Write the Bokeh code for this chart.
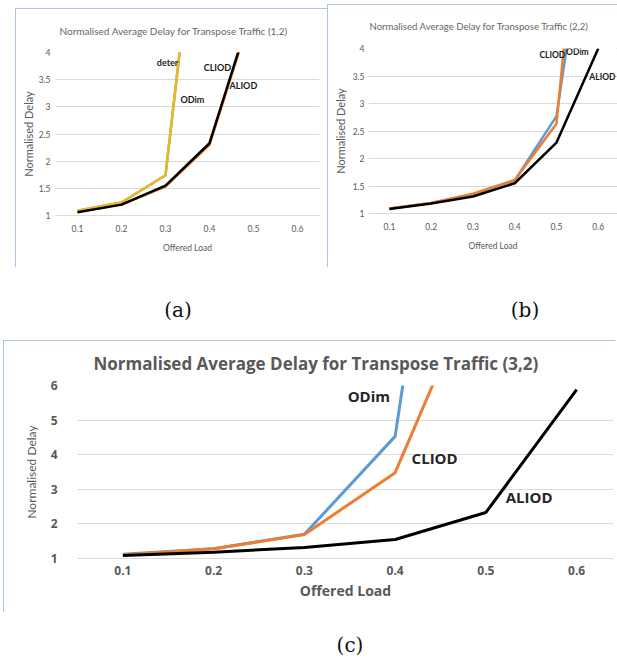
from bokeh.plotting import figure
from bokeh.models import Range1d, FixedTicker, NumeralTickFormatter, Label, Div, Spacer
from bokeh.layouts import row, column
from bokeh.embed import file_html
from bokeh.resources import INLINE

# ---------------- data ----------------
offered_load = [0.1, 0.2, 0.3, 0.4, 0.5, 0.6]

# (a) Transpose Traffic (1,2)
a_odim = [1.09, 1.24, 1.74, 8.8]
a_cliod = [1.07, 1.20, 1.53, 2.30, 4.85]
a_deter = [1.09, 1.24, 1.74, 8.8]
a_aliod = [1.06, 1.20, 1.55, 2.33, 4.9]
a_yticks = [1, 1.5, 2, 2.5, 3, 3.5, 4]

# (b) Transpose Traffic (2,2)
b_odim = [1.09, 1.19, 1.35, 1.60, 2.77, 7.9]
b_cliod = [1.09, 1.19, 1.36, 1.61, 2.63, 10.5]
b_aliod = [1.08, 1.18, 1.31, 1.55, 2.29, 4.0]
b_yticks = [1, 1.5, 2, 2.5, 3, 3.5, 4]

# (c) Transpose Traffic (3,2)
c_odim = [1.12, 1.28, 1.70, 4.53, 22.0]
c_cliod = [1.10, 1.28, 1.69, 3.48, 9.6]
c_aliod = [1.09, 1.18, 1.32, 1.55, 2.33, 5.88]
c_yticks = [1, 2, 3, 4, 5, 6]

titles = ["Normalised Average Delay for Transpose Traffic (1,2)",
          "Normalised Average Delay for Transpose Traffic (2,2)",
          "Normalised Average Delay for Transpose Traffic (3,2)"]
captions = ["(a)", "(b)", "(c)"]

BLUE, ORANGE, YELLOW, BLACK = "#5B9BD5", "#ED7D31", "#EDB81C", "#000000"
GRAY_TXT, GRID = "#595959", "#D9D9D9"
BOX = "#8DB3E2"


def chart(width, height, bl, br, bt, bb, x_end, y_end, yticks,
          tick_font, tick_size, tick_style, ylab_font, ylab_size, ylab_style,
          xlab_font, xlab_size, xlab_style, y_std, y_lab_std, x_std, x_lab_std,
          title, title_font, title_size, title_style, title_offset, title_standoff,
          title_color):
    p = figure(width=width, height=height,
               x_range=Range1d(0.05, x_end), y_range=Range1d(1, y_end),
               output_backend="svg", toolbar_location=None,
               min_border_left=bl, min_border_right=br,
               min_border_top=bt, min_border_bottom=bb)
    p.title.text = title
    p.title.align = "left"
    p.title.offset = title_offset
    p.title.vertical_align = "middle"
    p.title.standoff = title_standoff
    p.title.text_font = title_font
    p.title.text_font_size = f"{title_size}px"
    p.title.text_font_style = title_style
    p.title.text_color = title_color
    p.outline_line_color = None
    p.border_fill_color = "white"
    p.background_fill_color = "white"
    p.xgrid.grid_line_color = None
    p.ygrid.grid_line_color = GRID
    p.ygrid.grid_line_width = 1
    p.xaxis.ticker = FixedTicker(ticks=offered_load)
    p.xaxis.formatter = NumeralTickFormatter(format="0.0")
    p.yaxis.ticker = FixedTicker(ticks=yticks)
    p.yaxis.formatter = NumeralTickFormatter(format="0.[0]")
    for ax in (p.xaxis[0], p.yaxis[0]):
        ax.major_tick_line_color = None
        ax.minor_tick_line_color = None
        ax.major_tick_in = 0
        ax.major_tick_out = 0
        ax.major_label_text_font = tick_font
        ax.major_label_text_font_size = f"{tick_size}px"
        ax.major_label_text_font_style = tick_style
        ax.major_label_text_color = GRAY_TXT
        ax.axis_label_text_color = GRAY_TXT
    p.xaxis.axis_line_color = GRID
    p.yaxis.axis_line_color = None
    p.yaxis.axis_label = "Normalised Delay"
    p.xaxis.axis_label = "Offered Load"
    p.yaxis.axis_label_text_font = ylab_font
    p.yaxis.axis_label_text_font_size = f"{ylab_size}px"
    p.yaxis.axis_label_text_font_style = ylab_style
    p.xaxis.axis_label_text_font = xlab_font
    p.xaxis.axis_label_text_font_size = f"{xlab_size}px"
    p.xaxis.axis_label_text_font_style = xlab_style
    p.yaxis.major_label_standoff = y_std
    p.yaxis.axis_label_standoff = y_lab_std
    p.xaxis.major_label_standoff = x_std
    p.xaxis.axis_label_standoff = x_lab_std
    p.styles = {"outline": f"1px solid {BOX}", "outline-offset": "-1px"}
    return p


def add_text(p, x, y, text, font, size, style, color):
    p.add_layout(Label(x=x, y=y, text=text, text_font=font, text_font_size=f"{size}px",
                       text_font_style=style, text_color=color,
                       text_align="center", text_baseline="middle"))


# ---------- (a) ----------
pa = chart(312, 259, 40, 8, 42, 52, 0.65, 4, a_yticks,
           "Lato", 8.5, "normal", "Lato", 11, "normal", "Lato", 8.5, "normal",
           5, 1, 9, 8, titles[0], "Lato", 10, "normal", 4, 30, "#666666")
pa.line(offered_load[:len(a_odim)], a_odim, color=BLUE, line_width=2.5)
pa.line(offered_load[:len(a_cliod)], a_cliod, color=ORANGE, line_width=2.5)
pa.line(offered_load[:len(a_deter)], a_deter, color=YELLOW, line_width=2.5)
pa.line(offered_load[:len(a_aliod)], a_aliod, color=BLACK, line_width=2.5)
add_text(pa, 0.3045, 3.82, "deter", "Lato", 9, "bold", "#1a1a1a")
add_text(pa, 0.418, 3.73, "CLIOD", "Lato", 9, "bold", "#1a1a1a")
add_text(pa, 0.477, 3.40, "ALIOD", "Lato", 9, "bold", "#1a1a1a")
add_text(pa, 0.361, 3.13, "ODim", "Lato", 9, "bold", "#1a1a1a")

# ---------- (b) ----------
pb = chart(290, 263, 41, 0, 43, 54, 0.646, 4, b_yticks,
           "Lato", 8.5, "normal", "Lato", 11, "normal", "Lato", 8.5, "normal",
           4, 3, 9, 8, titles[1], "Lato", 9.6, "normal", 1, 31, "#666666")
pb.line(offered_load[:len(b_odim)], b_odim, color=BLUE, line_width=2.5)
pb.line(offered_load[:len(b_cliod)], b_cliod, color=ORANGE, line_width=2.5)
pb.line(offered_load[:len(b_aliod)], b_aliod, color=BLACK, line_width=2.5)
add_text(pb, 0.490, 3.88, "CLIOD", "Lato", 8.5, "bold", "#1a1a1a")
add_text(pb, 0.550, 3.94, "ODim", "Lato", 8.5, "bold", "#1a1a1a")
add_text(pb, 0.610, 3.49, "ALIOD", "Lato", 8.5, "bold", "#1a1a1a")

# ---------- (c) ----------
pc = chart(612, 272, 74, 2, 44, 54, 0.6406, 6, c_yticks,
           "Open Sans", 12, "bold", "Lato", 12, "normal", "Open Sans", 14, "bold",
           20, 9, 7, 3, titles[2], "Open Sans", 17, "bold", 16, 20, GRAY_TXT)
pc.line(offered_load[:len(c_odim)], c_odim, color=BLUE, line_width=3)
pc.line(offered_load[:len(c_cliod)], c_cliod, color=ORANGE, line_width=3)
pc.line(offered_load[:len(c_aliod)], c_aliod, color=BLACK, line_width=3)
add_text(pc, 0.371, 5.71, "ODim", "Open Sans", 15, "bold", "#262626")
add_text(pc, 0.4435, 3.90, "CLIOD", "Open Sans", 15, "bold", "#262626")
add_text(pc, 0.5476, 2.78, "ALIOD", "Open Sans", 15, "bold", "#262626")


def caption(text):
    return Div(text=text, width=100, height=24, margin=0,
               styles={"font-family": "DejaVu Serif", "font-size": "20px",
                       "text-align": "center", "line-height": "24px", "color": "#111"})


row1 = row(Spacer(width=15, height=263), column(Spacer(width=312, height=4), pa), pb)
row2 = row(Spacer(width=128, height=24), caption(captions[0]),
           Spacer(width=247, height=24), caption(captions[1]))
row3 = row(Spacer(width=3, height=272), pc)
row4 = row(Spacer(width=300, height=22), caption(captions[2]))

root = column(Spacer(width=10, height=4), row1, Spacer(width=10, height=31), row2,
              Spacer(width=10, height=18), row3, Spacer(width=10, height=21), row4)

open("out.html", "w").write(file_html(root, INLINE))
